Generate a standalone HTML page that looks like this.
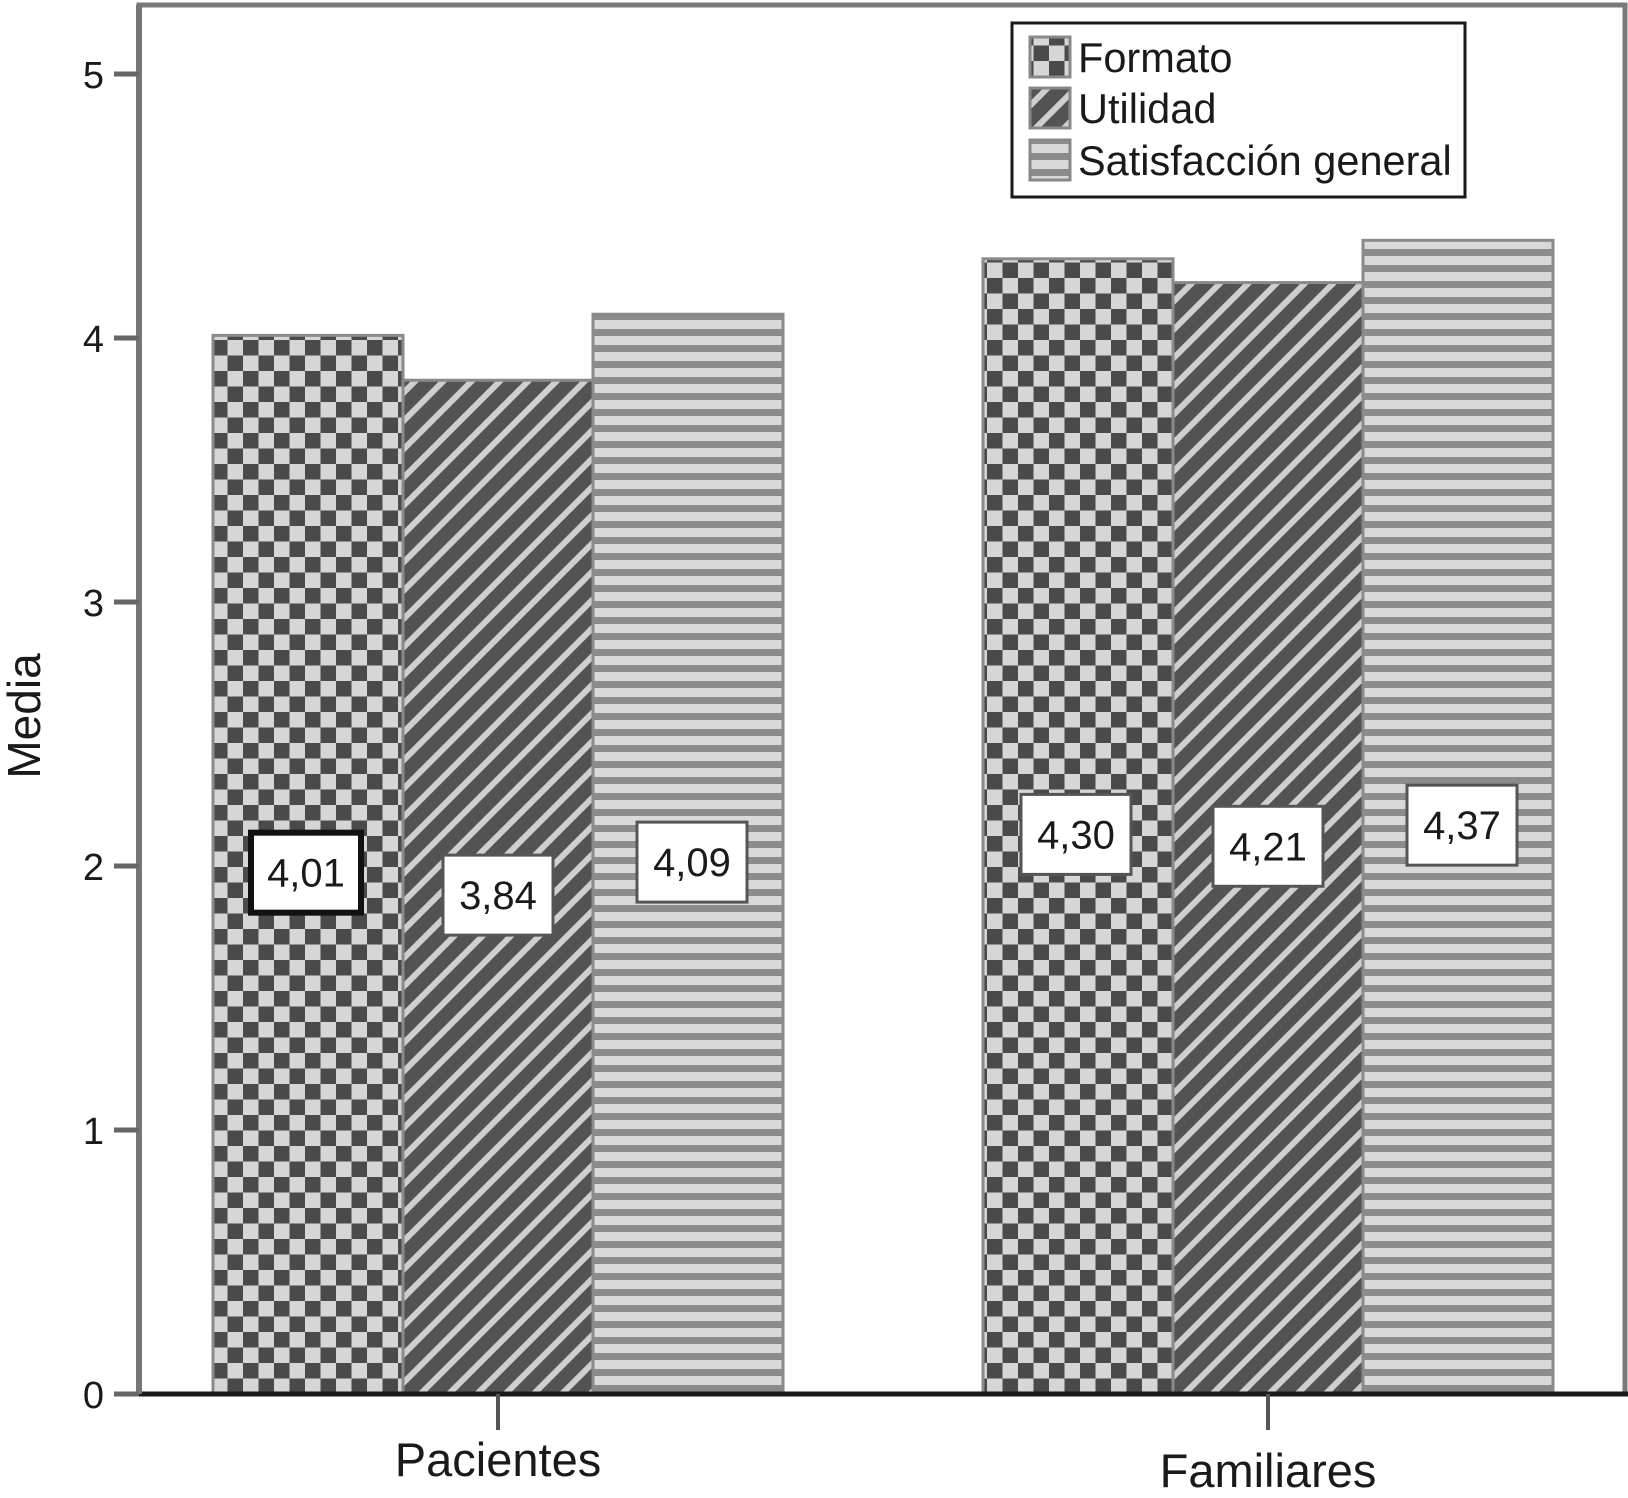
<!DOCTYPE html>
<html><head><meta charset="utf-8"><style>
html,body{margin:0;padding:0;background:#fff;}
svg{display:block;font-family:"Liberation Sans",Arial,sans-serif;}
</style></head><body>
<svg width="1628" height="1498" viewBox="0 0 1628 1498" xmlns="http://www.w3.org/2000/svg">
<defs>
<pattern id="pChk" patternUnits="userSpaceOnUse" width="31" height="31" x="212" y="1394">
<rect width="31" height="31" fill="#d6d6d6"/>
<rect width="15.5" height="15.5" fill="#4a4a4a"/>
<rect x="15.5" y="15.5" width="15.5" height="15.5" fill="#4a4a4a"/>
</pattern>
<pattern id="pDia" patternUnits="userSpaceOnUse" width="20" height="20" patternTransform="rotate(45)">
<rect width="20" height="20" fill="#535353"/>
<rect x="0" y="0" width="6" height="20" fill="#cfcfcf"/>
</pattern>
<pattern id="pHor" patternUnits="userSpaceOnUse" width="16" height="16">
<rect width="16" height="16" fill="#d9d9d9"/>
<rect y="9" width="16" height="7" fill="#8c8c8c"/>
</pattern>
</defs>
<g id="plot"></g>
</svg>
<script>
const categories = ["Pacientes","Familiares"];
const seriesNames = ["Formato","Utilidad","Satisfacción general"];
const formato = [4.01, 4.30];
const utilidad = [3.84, 4.21];
const satisfaccion = [4.09, 4.37];
const valueLabels = [["4,01","3,84","4,09"],["4,30","4,21","4,37"]];
const yTicks = [0,1,2,3,4,5];

const NS="http://www.w3.org/2000/svg";
const g=document.getElementById('plot');
const X0=139, X1=1625, Y0=1394, YT=5, unit=264;
function y(v){return Y0 - v*unit;}
const groupCenters=[498,1268];
const barW=190;
function xBar(ci,si){return groupCenters[ci] - 1.5*barW + si*barW;}
function mk(tag,attrs){const e=document.createElementNS(NS,tag);for(const k in attrs)e.setAttribute(k,attrs[k]);g.appendChild(e);return e;}
const fills=["url(#pChk)","url(#pDia)","url(#pHor)"];
const series=[formato,utilidad,satisfaccion];
const snames=["formato","utilidad","satisfaccion"];

let fr=mk('rect',{x:X0,y:YT,width:X1-X0,height:Y0-YT,fill:'none',stroke:'#7a7a7a','stroke-width':5});



for(let ci=0;ci<categories.length;ci++){
  for(let si=0;si<3;si++){
    const v=series[si][ci];
    const r=mk('rect',{x:xBar(ci,si),y:y(v),width:barW,height:Y0-y(v),fill:fills[si],stroke:'#8a8a8a','stroke-width':3});
    
    
  }
}
for(let ci=0;ci<categories.length;ci++){
  for(let si=0;si<3;si++){
    const v=series[si][ci];
    const cx=xBar(ci,si)+barW/2 - (si===0?2:(si===2?-4:0));
    const cy=y(v/2)+8;
    const thick=(ci===0&&si===0);
    const b=mk('rect',{x:cx-55,y:cy-40,width:110,height:80,fill:'#fff',stroke:thick?'#111':'#555','stroke-width':thick?6:3});
    
    
    const t=mk('text',{x:cx,y:cy+14,'text-anchor':'middle','font-size':40,fill:'#1a1a1a'});
    t.textContent=valueLabels[ci][si];
    
    
  }
}
let ax=mk('line',{x1:X0-25,y1:Y0,x2:X1+3,y2:Y0,stroke:'#1a1a1a','stroke-width':5});


let ay=mk('line',{x1:X0,y1:YT,x2:X0,y2:Y0,stroke:'#777','stroke-width':6});


yTicks.forEach(v=>{
  const l=mk('line',{x1:114,y1:y(v),x2:X0,y2:y(v),stroke:'#666','stroke-width':5});
  
  
  const t=mk('text',{x:104,y:y(v)+14,'text-anchor':'end','font-size':38,fill:'#1a1a1a'});
  t.textContent=String(v);
  
  
});
const labelY=[1476,1487];
categories.forEach((c,i)=>{
  const l=mk('line',{x1:groupCenters[i],y1:Y0,x2:groupCenters[i],y2:Y0+36,stroke:'#555','stroke-width':4});
  
  
  const t=mk('text',{x:groupCenters[i],y:labelY[i],'text-anchor':'middle','font-size':47,fill:'#1a1a1a'});
  t.textContent=c;
  
  
});
let yt=mk('text',{x:0,y:0,'text-anchor':'middle','font-size':46,fill:'#1a1a1a',transform:'translate(40,716) rotate(-90)'});
yt.textContent='Media';


let lg=mk('rect',{x:1012,y:23,width:453,height:174,fill:'#fff',stroke:'#1a1a1a','stroke-width':3});


const rowY=[57,108,160];
seriesNames.forEach((n,i)=>{
  const s=mk('rect',{x:1030,y:rowY[i]-20,width:40,height:40,fill:fills[i],stroke:'#888','stroke-width':3});
  
  
  const t=mk('text',{x:1078,y:rowY[i]+15,'font-size':41.5,fill:'#1a1a1a'});
  t.textContent=n;
  
  
});
</script>
</body></html>
